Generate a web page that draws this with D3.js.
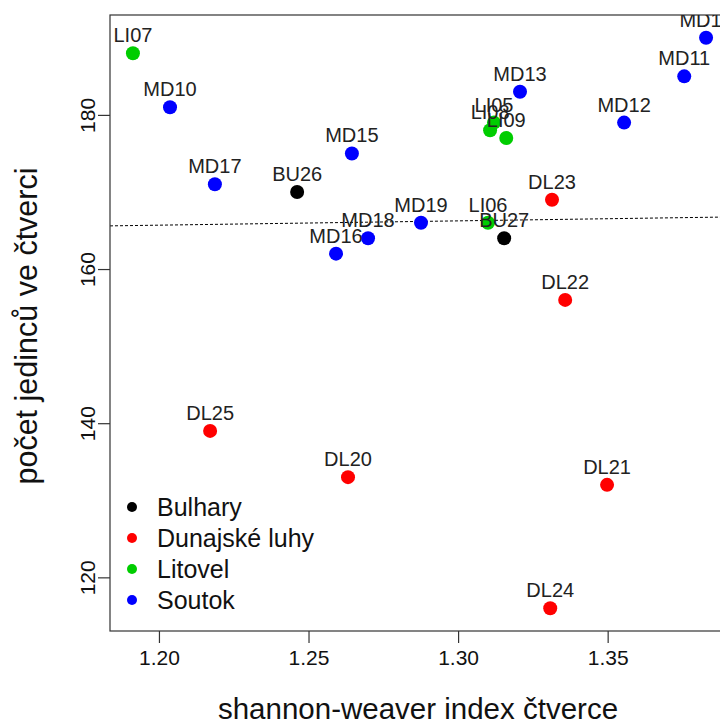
<!DOCTYPE html>
<html>
<head>
<meta charset="utf-8">
<script src="https://cdn.jsdelivr.net/npm/d3@7"></script>
<style>
  body { margin: 0; background: #fff; }
  svg { font-family: Arial, "Liberation Sans", sans-serif; }
</style>
</head>
<body>
<svg width="720" height="724"></svg>
<script>
// site codes, diversity index (x), individual count (y), region group
var sites = ["LI07", "MD10", "MD17", "BU26", "MD15", "MD13", "LI05", "LI08", "LI09",
  "MD12", "MD11", "MD14", "DL23", "MD19", "MD18", "MD16", "LI06", "BU27",
  "DL22", "DL25", "DL20", "DL21", "DL24"];
var shannon = [1.1913, 1.2037, 1.2187, 1.2462, 1.2645, 1.3207, 1.3120, 1.3107, 1.3161,
  1.3555, 1.3756, 1.3829, 1.3314, 1.2876, 1.2699, 1.2592, 1.3100, 1.3154,
  1.3358, 1.2171, 1.2632, 1.3498, 1.3308];
var count = [188, 181, 171, 170, 175, 183, 179, 178, 177,
  179, 185, 190, 169, 166, 164, 162, 166, 164,
  156, 139, 133, 132, 116];
var region = ["Litovel", "Soutok", "Soutok", "Bulhary", "Soutok", "Soutok", "Litovel", "Litovel", "Litovel",
  "Soutok", "Soutok", "Soutok", "Dunajské luhy", "Soutok", "Soutok", "Soutok", "Litovel", "Bulhary",
  "Dunajské luhy", "Dunajské luhy", "Dunajské luhy", "Dunajské luhy", "Dunajské luhy"];

var groups = ["Bulhary", "Dunajské luhy", "Litovel", "Soutok"];
var groupColors = ["#000000", "#ff0000", "#00cd00", "#0000ff"];
var xTicks = [1.20, 1.25, 1.30, 1.35];
var yTicks = [120, 140, 160, 180];

var svg = d3.select("svg");
var pl = 110, pt = 15, pr = 729, pb = 631;
var FONT = "Arial, 'Liberation Sans', sans-serif";

var data = sites.map(function (s, i) {
  return { site: s, x: shannon[i], y: count[i], group: region[i] };
});

// R-style 4% padding on the data range
function pad(ext) {
  var d = (ext[1] - ext[0]) * 0.04;
  return [ext[0] - d, ext[1] + d];
}

var x = d3.scaleLinear().domain(pad(d3.extent(shannon))).range([pl, pr]);
var y = d3.scaleLinear().domain(pad(d3.extent(count))).range([pb, pt]);
var color = d3.scaleOrdinal().domain(groups).range(groupColors);

// least squares fit of count on index
var mx = d3.mean(shannon), my = d3.mean(count);
var sxy = d3.sum(data, function (d) { return (d.x - mx) * (d.y - my); });
var sxx = d3.sum(data, function (d) { return (d.x - mx) * (d.x - mx); });
var slope = sxy / sxx, icept = my - slope * mx;

svg.append("clipPath").attr("id", "plotclip")
  .append("rect").attr("x", pl).attr("y", pt)
  .attr("width", pr - pl).attr("height", pb - pt);

var xd = x.domain();
svg.append("line")
  .attr("clip-path", "url(#plotclip)")
  .attr("x1", x(xd[0])).attr("y1", y(icept + slope * xd[0]))
  .attr("x2", x(xd[1])).attr("y2", y(icept + slope * xd[1]))
  .attr("stroke", "#000")
  .attr("stroke-width", 1)
  .attr("stroke-dasharray", "3,2");

// frame
svg.append("rect")
  .attr("x", pl).attr("y", pt)
  .attr("width", pr - pl).attr("height", pb - pt)
  .attr("fill", "none").attr("stroke", "#333").attr("stroke-width", 1.2);

// x axis
var xAxis = svg.append("g").attr("transform", "translate(0," + pb + ")")
  .call(d3.axisBottom(x).tickValues(xTicks).tickFormat(d3.format(".2f")).tickSize(12).tickPadding(7));
xAxis.select(".domain").remove();
xAxis.selectAll("line").attr("stroke", "#333").attr("stroke-width", 1.2);
xAxis.selectAll("text").attr("font-size", 21).attr("font-family", FONT).attr("fill", "#111");

// y axis with rotated labels
var yAxis = svg.append("g").attr("transform", "translate(" + pl + ",0)")
  .call(d3.axisLeft(y).tickValues(yTicks).tickSize(12));
yAxis.select(".domain").remove();
yAxis.selectAll("line").attr("stroke", "#333").attr("stroke-width", 1.2);
yAxis.selectAll("text")
  .attr("font-size", 21).attr("font-family", FONT).attr("fill", "#111")
  .attr("x", null).attr("dy", null)
  .attr("text-anchor", "middle")
  .attr("transform", "translate(-15,0) rotate(-90)");

// axis titles
svg.append("text")
  .attr("x", 418).attr("y", 719)
  .attr("text-anchor", "middle").attr("font-size", 29.5).attr("fill", "#111")
  .text("shannon-weaver index čtverce");
svg.append("text")
  .attr("transform", "translate(37,326) rotate(-90)")
  .attr("text-anchor", "middle").attr("font-size", 30.5).attr("fill", "#111")
  .text("počet jedinců ve čtverci");

// points and labels
var pts = svg.append("g").attr("clip-path", "url(#plotclip)");
pts.selectAll("circle").data(data).enter().append("circle")
  .attr("cx", function (d) { return x(d.x); })
  .attr("cy", function (d) { return y(d.y); })
  .attr("r", 7)
  .attr("fill", function (d) { return color(d.group); });
pts.selectAll("text").data(data).enter().append("text")
  .attr("x", function (d) { return x(d.x); })
  .attr("y", function (d) { return y(d.y) - 11; })
  .attr("text-anchor", "middle")
  .attr("font-size", 20)
  .attr("fill", "#222")
  .text(function (d) { return d.site; });

// legend
var leg = svg.append("g").selectAll("g").data(groups).enter().append("g")
  .attr("transform", function (d, i) { return "translate(132," + (507 + i * 31) + ")"; });
leg.append("circle").attr("r", 5).attr("fill", function (d) { return color(d); });
leg.append("text").attr("x", 25).attr("y", 9).attr("font-size", 25).attr("fill", "#111")
  .text(function (d) { return d; });
</script>
</body>
</html>
